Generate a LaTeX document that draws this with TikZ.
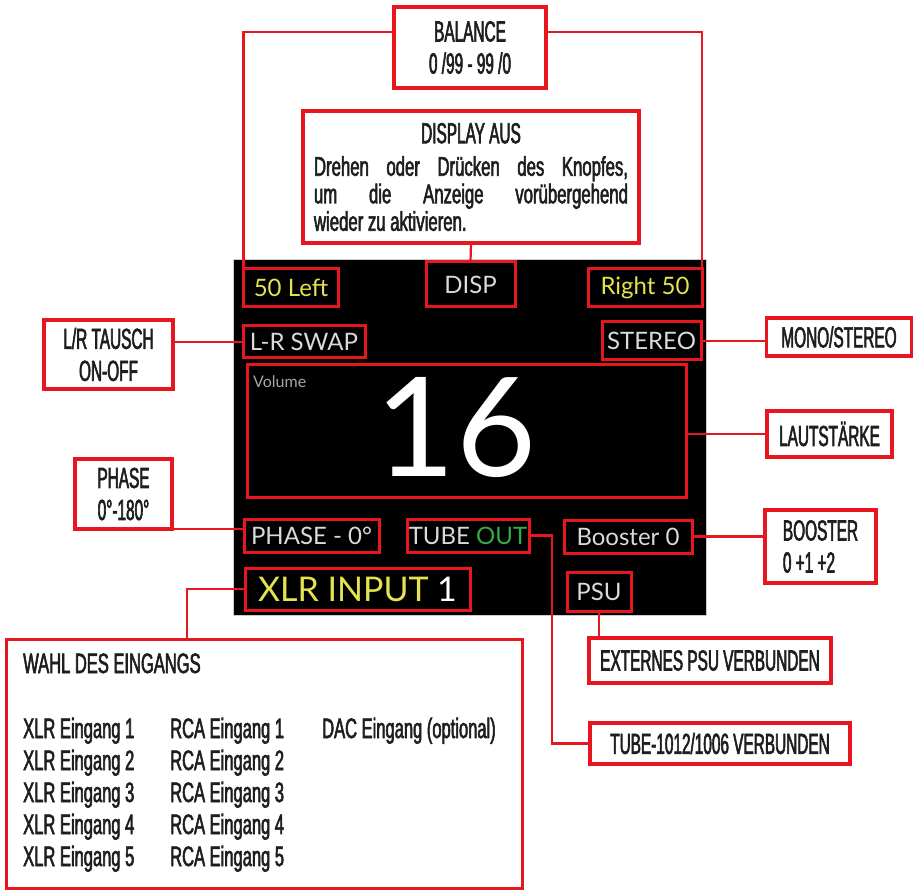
\documentclass[tikz,border=0pt]{standalone}
\usepackage{fontspec}
\setmainfont[FakeStretch=0.53,FakeBold=2]{Liberation Sans}
\newfontfamily\rowfont[FakeStretch=0.59,FakeBold=2]{Liberation Sans}
\newfontfamily\bodyfont[FakeStretch=0.62,FakeBold=2]{Liberation Sans}
\newfontfamily\dispfont{Lato}
\usetikzlibrary{positioning}
\definecolor{mred}{RGB}{232,22,30}
\definecolor{dispyel}{RGB}{228,226,78}
\definecolor{dispgray}{RGB}{218,218,218}
\definecolor{dispgreen}{RGB}{52,170,72}
\definecolor{lblink}{RGB}{30,30,30}
\tikzset{
  lblbox/.style={draw=mred,line width=3.5pt,fill=white,inner sep=0pt,outer sep=0pt,align=center,text=lblink,font=\fontsize{29}{32}\selectfont},
  dispbox/.style={draw=mred,line width=3pt,inner sep=0pt,outer sep=0pt,text=dispgray,font=\dispfont\fontsize{24}{28}\selectfont},
  conn/.style={draw=mred,line width=2.2pt},
  rowtxt/.style={anchor=base west,inner sep=0pt,text=lblink,font=\rowfont\fontsize{28}{30}\selectfont}
}
\begin{document}
\begin{tikzpicture}[x=1pt,y=-1pt]
\useasboundingbox (0,0) rectangle (913,890);
% display panel
\fill[black,draw=gray!40,line width=0.8pt] (233,259) rectangle (706,615);
\node[dispbox,minimum width=95pt,minimum height=38pt,text=dispyel] (left50) at (291,288) {50 Left};
\node[dispbox,minimum width=89pt,minimum height=45pt] (disp) at (470.5,284.5) {DISP};
\node[dispbox,minimum width=114pt,minimum height=38pt,text=dispyel] (right50) at (645,288) {Right 50};
\node[dispbox,minimum width=122pt,minimum height=32pt] (lrswap) at (304,342) {L-R SWAP};
\node[dispbox,minimum width=99pt,minimum height=38pt] (stereo) at (651.5,341) {STEREO};
\node[dispbox,minimum width=439pt,minimum height=132pt] (volume) at (466.5,431) {};
\node[anchor=base west,inner sep=0pt,text=gray!70,font=\dispfont\fontsize{16}{18}\selectfont] (vollbl) at (253,388) {Volume};
\node[inner sep=0pt,text=white,font=\dispfont\fontsize{138}{150}\selectfont] (volval) at (456,428) {16};
\node[dispbox,minimum width=135pt,minimum height=33pt] (phase0) at (311.5,535.5) {PHASE - 0°};
\node[dispbox,minimum width=122pt,minimum height=33pt] (tube) at (468,535.5) {TUBE \textcolor{dispgreen}{OUT}};
\node[dispbox,minimum width=128pt,minimum height=33pt] (booster) at (628,536.5) {Booster 0};
\node[dispbox,minimum width=64pt,minimum height=39pt] (psu) at (599,591.5) {PSU};
\node[dispbox,minimum width=225pt,minimum height=42pt,text=dispyel,font=\dispfont\fontsize{34}{38}\selectfont] (xlr) at (357.5,589) {XLR INPUT \textcolor{white}{1}\hspace{12pt}};
% labels
\node[lblbox,minimum width=152pt,minimum height=81pt] (balance) at (470,47.5) {BALANCE\\0 /99 - 99 /0};
\node[lblbox,minimum width=336pt,minimum height=132pt] (dispaus) at (471,177) {\parbox{314pt}{\makebox[314pt]{DISPLAY AUS}\par\vspace{5pt}
\bodyfont\fontsize{27}{27.5}\selectfont\makebox[314pt][s]{Drehen oder Drücken des Knopfes,}\par
\makebox[314pt][s]{um die Anzeige vorübergehend}\par
wieder zu aktivieren.}};
\node[lblbox,minimum width=129pt,minimum height=69pt] (tausch) at (108.5,354.5) {L/R TAUSCH\\ON-OFF};
\node[lblbox,minimum width=145pt,minimum height=38pt] (monost) at (839,337) {MONO/STEREO};
\node[lblbox,minimum width=125pt,minimum height=46pt] (lautst) at (829.5,434) {LAUTSTÄRKE};
\node[lblbox,minimum width=97pt,minimum height=70pt] (phasebox) at (123.5,494) {PHASE\\0°-180°};
\node[lblbox,minimum width=111pt,minimum height=73pt,align=left] (boostbox) at (820.5,546.5) {BOOSTER\\0 +1 +2};
\node[lblbox,minimum width=242pt,minimum height=45pt] (extern) at (710,660.5) {EXTERNES PSU VERBUNDEN};
\node[lblbox,minimum width=260pt,minimum height=41pt] (tube1012) at (720,743.5) {TUBE-1012/1006 VERBUNDEN};
\node[lblbox,line width=3pt,minimum width=516pt,minimum height=249pt] (wahl) at (264,763.5) {};
\node[rowtxt] (wahltitle) at (23,673) {WAHL DES EINGANGS};
\foreach \i in {1,...,5}{
  \node[rowtxt] (xlrin\i) at (23,706+32*\i) {XLR Eingang \i};
  \node[rowtxt] (rcain\i) at (170,706+32*\i) {RCA Eingang \i};
}
\node[rowtxt] (dacin) at (322,738) {DAC Eingang (optional)};
% connectors
\draw[conn] ([yshift=15.5pt]balance.west) -| (left50.north west);
\draw[conn] ([yshift=15.5pt]balance.east) -| (right50.north east);
\draw[conn] (dispaus.south) -- (disp.north);
\draw[conn] (tausch.east |- lrswap.west) -- (lrswap.west);
\draw[conn] (stereo.east) -- (stereo.east -| monost.west);
\draw[conn] (lautst.west -| volume.east) -- (lautst.west);
\draw[conn] (phasebox.south east) -- (phasebox.south east -| phase0.west);
\draw[conn] (tube.east) -- ++(23,0) |- (tube1012.west);
\draw[conn] (booster.east) -- (booster.east -| boostbox.west);
\draw[conn] (psu.south) -- (psu.south |- extern.north);
\draw[conn] (xlr.west) -| ([xshift=-77pt]wahl.north);
\end{tikzpicture}
\end{document}
